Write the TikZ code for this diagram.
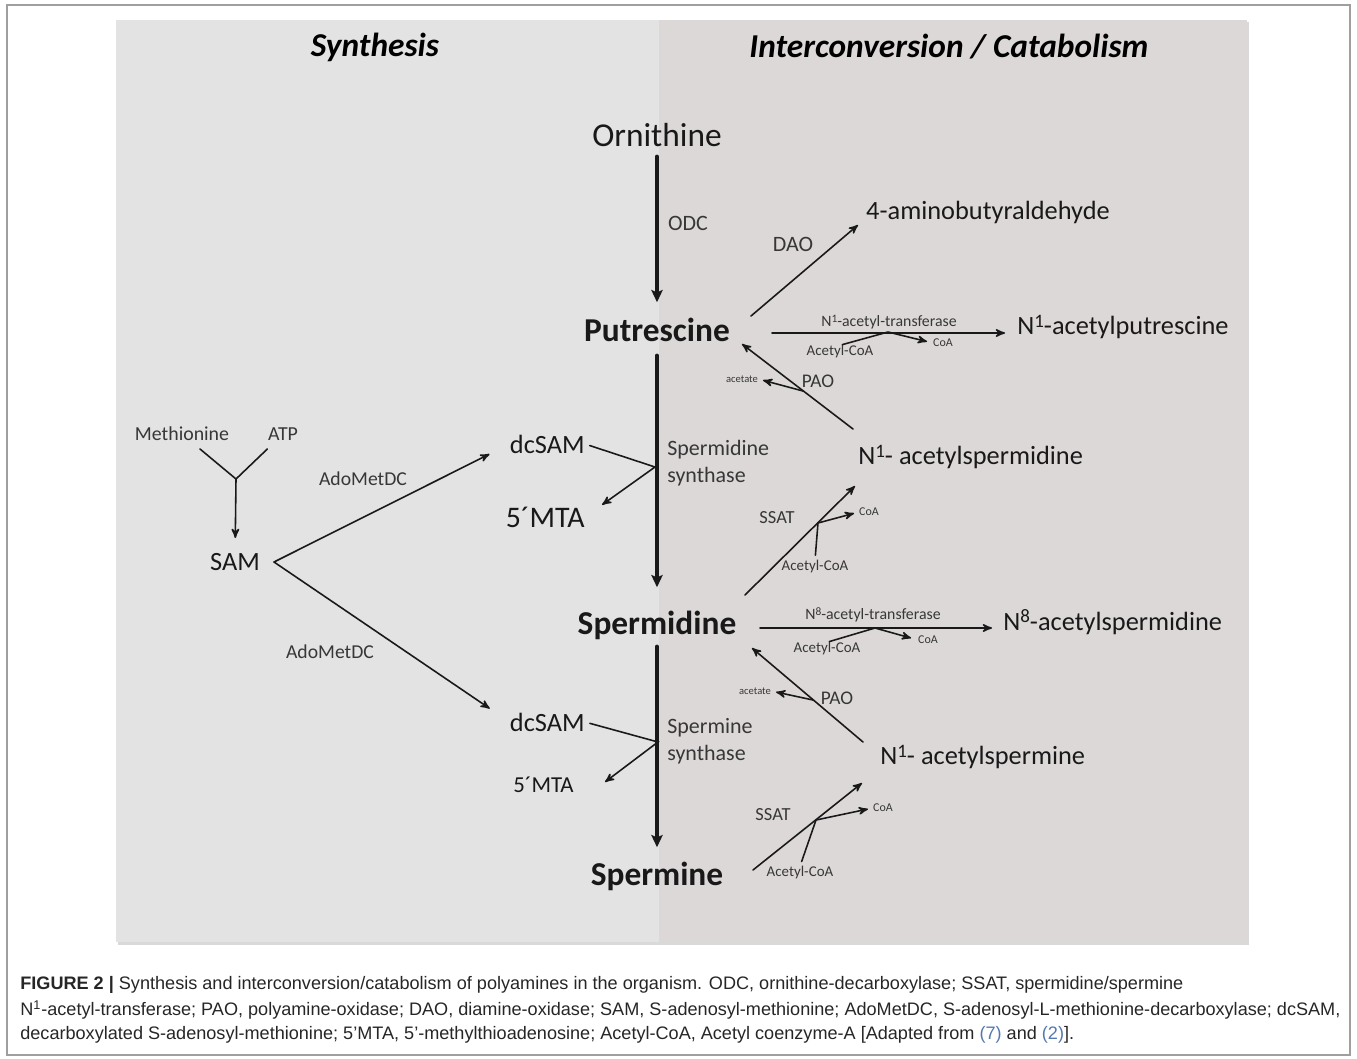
\documentclass[tikz,border=0pt]{standalone}
\usepackage{fontspec}
\setmainfont{Carlito}
\newfontfamily\capfont{Liberation Sans}
\usepackage{tikz}
\usetikzlibrary{arrows,arrows.meta,positioning}
\definecolor{synbg}{RGB}{227,227,227}
\definecolor{catbg}{RGB}{221,216,216}
\definecolor{ink}{RGB}{25,25,25}
\definecolor{labelgray}{RGB}{55,55,55}
\definecolor{refblue}{RGB}{85,120,175}
% superscript locant as printed in the figure
\newcommand{\loc}[1]{\raisebox{0.3em}{\scalebox{0.72}{#1}}}
\tikzset{
    %Define standard arrow tip
    >=stealth',
    %Define style for metabolites
    metab/.style={
           inner sep=0pt,
           text=ink,
           font=\fontsize{19}{23}\selectfont},
    mainmetab/.style={
           metab,
           font=\bfseries\fontsize{19}{23}\selectfont},
    sidemetab/.style={
           metab,
           font=\fontsize{15}{18}\selectfont},
    smallmetab/.style={
           metab,
           font=\fontsize{15}{18}\selectfont},
    %Define style for enzymes and cofactors
    enzyme/.style={
           inner sep=0pt,
           text=labelgray,
           font=\fontsize{12.5}{15.3}\selectfont},
    minorenz/.style={
           enzyme,
           font=\fontsize{11}{13}\selectfont},
    cofac/.style={
           inner sep=0pt,
           text=labelgray,
           font=\fontsize{8.5}{10}\selectfont},
    tinycofac/.style={
           cofac,
           font=\fontsize{6.8}{8}\selectfont},
    header/.style={
           inner sep=0pt,
           text=black,
           font=\bfseries\itshape\fontsize{19}{23}\selectfont},
    capline/.style={
           inner sep=0pt,
           anchor=west,
           text=black!85,
           font=\capfont\fontsize{10.3}{12}\selectfont},
    % Define arrow styles
    pil/.style={
           -{Stealth[length=7pt,width=6.5pt,inset=1.5pt]},
           line width=2.3pt},
    thinpil/.style={
           ->,
           line width=0.9pt},
    twig/.style={
           line width=0.9pt}
}
\begin{document}
\begin{tikzpicture}[x=0.02cm,y=-0.02cm,line cap=round,ink]
\useasboundingbox (0,0) rectangle (1357,1059);
% frame and panels
\draw[gray!75,line width=0.9pt] (7,5) rectangle (1350,1055);
\fill[black!15] (118,22) rectangle (1249,945);
\fill[synbg] (116,20) rectangle (659,942);
\fill[catbg] (659,20) rectangle (1247,942);
\node[header] (syn) at (375,47) {Synthesis};
\node[header] (cat) at (949,47) {Interconversion / Catabolism};

% main chain
\node[metab,anchor=base] (orn) at (657,146) {Ornithine};
\node[mainmetab,anchor=base] (put) at (657,341) {Putrescine};
\node[mainmetab,anchor=base] (spd) at (657,634) {Spermidine};
\node[mainmetab,anchor=base] (spm) at (657,885) {Spermine};
\draw[pil,shorten <=0.2cm,shorten >=0.3cm] (orn) -- (put);
\draw[pil,shorten <=0.28cm,shorten >=0.46cm] (put) -- (spd);
\draw[pil,shorten <=0.14cm,shorten >=0.28cm] (spd) -- (spm);
\node[enzyme] (odc) at (688,223) {ODC};
\node[enzyme,anchor=west,align=left] (spdsyn) at (667,463) {Spermidine\\synthase};
\node[enzyme,anchor=west,align=left] (spmsyn) at (667,741) {Spermine\\synthase};

% synthesis side
\node[cofac,font=\fontsize{11.3}{13}\selectfont] (met) at (182,434) {Methionine};
\node[cofac,font=\fontsize{11.3}{13}\selectfont] (atp) at (283,434) {ATP};
\node[smallmetab] (sam) at (235,562) {SAM};
\node[cofac,font=\fontsize{11.2}{13}\selectfont] (ado1) at (363,479) {AdoMetDC};
\node[cofac,font=\fontsize{11.2}{13}\selectfont] (ado2) at (330,652) {AdoMetDC};
\node[smallmetab,anchor=east] (dcs1) at (585,444) {dcSAM};
\node[metab,font=\fontsize{17}{20}\selectfont,anchor=east] (mta1) at (585,517) {5´MTA};
\node[smallmetab,anchor=east] (dcs2) at (585,722) {dcSAM};
\node[metab,font=\fontsize{13}{15}\selectfont,anchor=east] (mta2) at (574,785) {5´MTA};
\coordinate (yj) at (236,479);
\coordinate (samj) at (274,562);
\coordinate (sdj) at (655,467);
\coordinate (smj) at (658,742);
\coordinate (m2tip) at (605,782);
\draw[twig,shorten <=0.24cm] (met) -- (yj);
\draw[twig,shorten <=0.24cm] (atp) -- (yj);
\draw[thinpil,shorten >=0.3cm] (yj) -- (sam);
\draw[thinpil,shorten >=0.45cm] (samj) -- (dcs1.west);
\draw[thinpil,shorten >=0.48cm] (samj) -- (dcs2.west);
\draw[thinpil,shorten <=0.1cm,shorten >=0.42cm] (dcs1.east) -- (sdj) -- (mta1.east);
\draw[thinpil,shorten <=0.1cm] (dcs2.east) -- (smj) -- (m2tip);

% catabolism side
\node[sidemetab] (amino) at (988,212) {4-aminobutyraldehyde};
\node[sidemetab,anchor=west] (nap) at (1017,327) {N\loc{1}-acetylputrescine};
\node[sidemetab,anchor=west] (nasd) at (858,457) {N\loc{1}- acetylspermidine};
\node[sidemetab,anchor=west] (n8sd) at (1003,622) {N\loc{8}-acetylspermidine};
\node[sidemetab,anchor=west] (nasm) at (880,757) {N\loc{1}- acetylspermine};
\node[enzyme] (dao) at (793,244) {DAO};
\node[minorenz] (pao1) at (818,381) {PAO};
\node[minorenz] (pao2) at (837,698) {PAO};
\node[minorenz,font=\fontsize{10.5}{12}\selectfont] (ssat1) at (777,518) {SSAT};
\node[minorenz,font=\fontsize{10.5}{12}\selectfont] (ssat2) at (773,815) {SSAT};
\node[cofac,font=\fontsize{9}{10}\selectfont] (tr1) at (889,322) {N\loc{1}-acetyl-transferase};
\node[cofac,font=\fontsize{9}{10}\selectfont] (tr8) at (873,615) {N\loc{8}-acetyl-transferase};
\node[cofac] (acoa1) at (840,352) {Acetyl-CoA};
\node[cofac] (acoa2) at (815,567) {Acetyl-CoA};
\node[cofac] (acoa3) at (827,649) {Acetyl-CoA};
\node[cofac] (acoa4) at (800,873) {Acetyl-CoA};
\node[tinycofac] (coa1) at (943,343) {CoA};
\node[tinycofac] (coa2) at (869,512) {CoA};
\node[tinycofac] (coa3) at (928,640) {CoA};
\node[tinycofac] (coa4) at (883,808) {CoA};
\node[tinycofac,font=\fontsize{6}{7}\selectfont] (acet1) at (742,379) {acetate};
\node[tinycofac,font=\fontsize{6}{7}\selectfont] (acet2) at (755,691) {acetate};
\coordinate (dao0) at (751,316);
\coordinate (dao1) at (858,225);
\coordinate (t1a) at (772,333);
\coordinate (t1p) at (888,332);
\coordinate (t8a) at (760,628);
\coordinate (t8p) at (875,628);
\coordinate (p1a) at (853,429);
\coordinate (p1b) at (742,344);
\coordinate (p1j) at (803,391);
\coordinate (p2a) at (863,742);
\coordinate (p2b) at (752,648);
\coordinate (p2j) at (813,700);
\coordinate (s1a) at (745,595);
\coordinate (s1b) at (855,486);
\coordinate (s1j) at (818,523);
\coordinate (s2a) at (753,870);
\coordinate (s2b) at (862,783);
\coordinate (s2j) at (816,820);
\draw[thinpil] (dao0) -- (dao1);
\draw[thinpil,shorten >=0.24cm] (t1a) -- (t1a -| nap.west);
\draw[thinpil,shorten >=0.22cm] (t8a) -- (t8a -| n8sd.west);
\draw[thinpil,shorten <=0.05cm,shorten >=0.12cm] (acoa1.north) -- (t1p) -- (coa1.west);
\draw[thinpil,shorten <=0.05cm,shorten >=0.14cm] (acoa3.north) -- (t8p) -- (coa3.west);
\draw[thinpil] (p1a) -- (p1b);
\draw[thinpil,shorten >=0.1cm] (p1j) -- (acet1.east);
\draw[thinpil] (p2a) -- (p2b);
\draw[thinpil,shorten >=0.1cm] (p2j) -- (acet2.east);
\draw[thinpil] (s1a) -- (s1b);
\draw[thinpil,shorten <=0.1cm,shorten >=0.1cm] (acoa2.north) -- (s1j) -- (coa2.west);
\draw[thinpil] (s2a) -- (s2b);
\draw[thinpil,shorten <=0.1cm,shorten >=0.1cm] (acoa4.north) -- (s2j) -- (coa4.west);

% caption
\node[capline] (cap1) at (20,985) {\textbf{FIGURE 2 |} Synthesis and interconversion/catabolism of polyamines in the organism. ODC, ornithine-decarboxylase; SSAT, spermidine/spermine};
\node[capline] (cap2) at (20,1010) {N\textsuperscript{1}-acetyl-transferase; PAO, polyamine-oxidase; DAO, diamine-oxidase; SAM, S-adenosyl-methionine; AdoMetDC, S-adenosyl-L-methionine-decarboxylase; dcSAM,};
\node[capline] (cap3) at (20,1035) {decarboxylated S-adenosyl-methionine; 5’MTA, 5’-methylthioadenosine; Acetyl-CoA, Acetyl coenzyme-A [Adapted from {\color{refblue}(7)} and {\color{refblue}(2)}].};
\end{tikzpicture}
\end{document}
